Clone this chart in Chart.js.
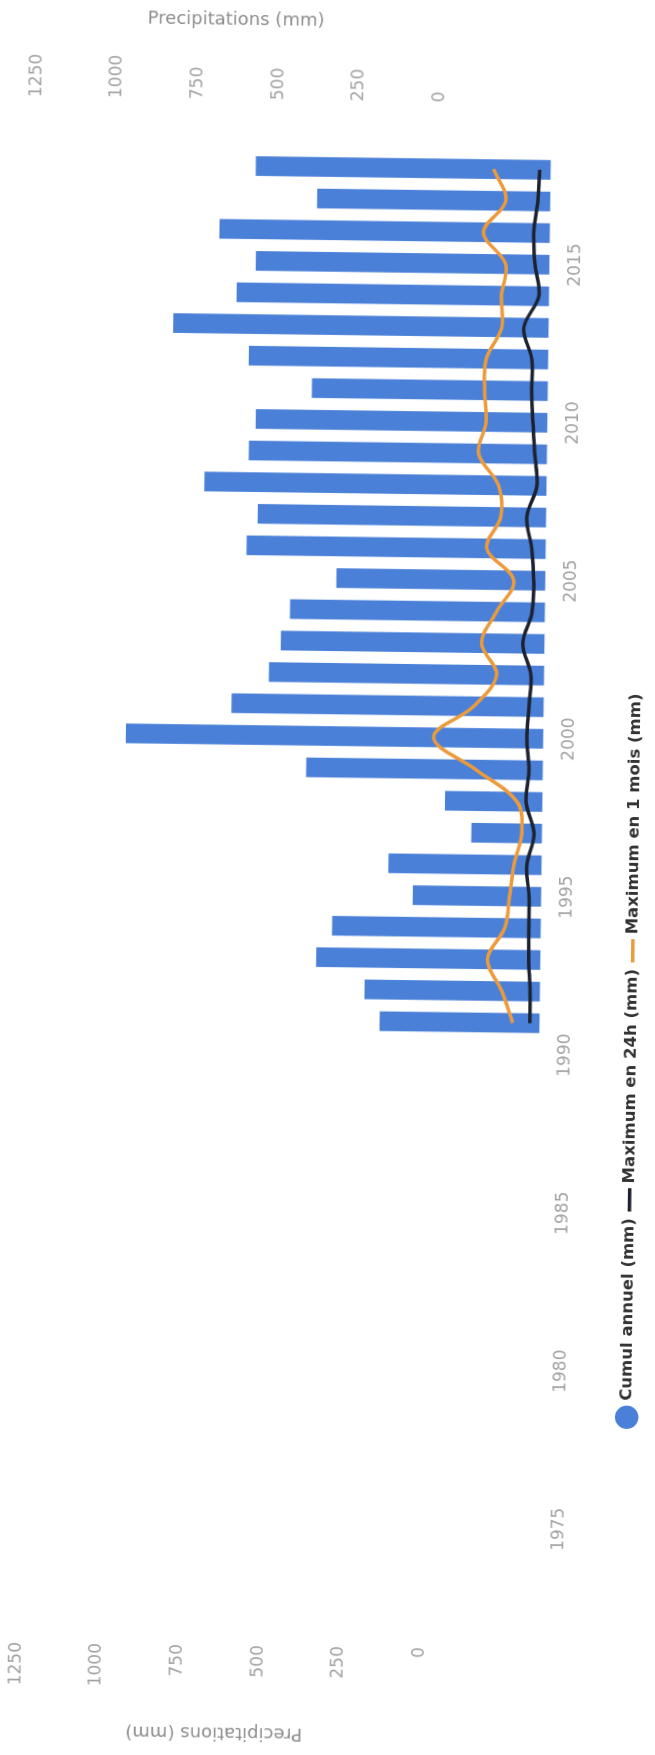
<!DOCTYPE html>
<html lang="fr">
<head>
  <meta charset="UTF-8">
  <title>Précipitations annuelles</title>
  <script src="https://cdn.jsdelivr.net/npm/chart.js"></script>
  <style>
    html, body {
      margin: 0;
      padding: 0;
      background: #ffffff;
      overflow: hidden;
      width: 655px;
      height: 1755px;
    }
    /* the photographed chart lies on its side, slightly tilted */
    #wrap {
      position: absolute;
      left: -550px;
      top: 550px;
      width: 1755px;
      height: 655px;
      transform: rotate(-89.25deg);
      transform-origin: 50% 50%;
    }
  </style>
</head>
<body>
  <div id="wrap">
    <canvas id="rainChart" width="1755" height="655"></canvas>
  </div>

  <script>
    // Data
    const years = [1991, 1992, 1993, 1994, 1995, 1996, 1997, 1998, 1999, 2000,
                   2001, 2002, 2003, 2004, 2005, 2006, 2007, 2008, 2009, 2010,
                   2011, 2012, 2013, 2014, 2015, 2016, 2017, 2018];
    const cumulAnnuel = [494, 542, 693, 645, 397, 473, 218, 301, 732, 1291,
                         965, 851, 815, 788, 646, 925, 892, 1058, 922, 902,
                         729, 926, 1161, 966, 908, 1022, 721, 912];
    const max24h = [30, 31, 36, 37, 38, 46, 25, 51, 43, 51,
                    46, 41, 67, 40, 36, 43, 60, 30, 38, 45,
                    50, 51, 77, 32, 45, 50, 39, 34];
    const max1mois = [83, 118, 164, 112, 98, 86, 63, 79, 208, 340,
                      217, 147, 195, 150, 98, 183, 141, 149, 212, 190,
                      196, 192, 145, 148, 136, 206, 138, 177];

    const yearTicks = [1975, 1980, 1985, 1990, 1995, 2000, 2005, 2010, 2015];
    const valueTicks = [0, 250, 500, 750, 1000, 1250];

    const tickFont = { family: "DejaVu Sans", size: 17 };
    const tickColor = "#a3a3a3";
    const titleColor = "#8c8c8c";

    // legend sits left of centre in the reference
    const legendShift = {
      id: "legendShift",
      afterLayout(chart) {
        chart.legend.left -= 178;
        chart.legend.right -= 178;
      }
    };

    // the labelled axes only cover the upper part of the plot in the picture
    function valueAxis(position, stack, width) {
      return {
        type: "linear",
        position: position,
        stack: stack,
        stackWeight: 407,
        min: 0,
        max: 1269,
        grid: { display: false, drawTicks: false },
        border: { display: false },
        afterBuildTicks: axis => {
          axis.ticks = valueTicks.map(v => ({ value: v }));
        },
        afterFit: axis => { axis.width = width; },
        ticks: {
          font: tickFont,
          color: tickColor,
          padding: 6,
          callback: v => String(v)
        },
        title: {
          display: true,
          text: "Precipitations (mm)",
          color: titleColor,
          font: { family: "DejaVu Sans", size: 18 },
          padding: { top: 11, bottom: 0 }
        }
      };
    }

    function padAxis(position, stack) {
      return {
        type: "linear",
        position: position,
        stack: stack,
        stackWeight: 111,
        display: false
      };
    }

    const ctx = document.getElementById("rainChart").getContext("2d");
    new Chart(ctx, {
      type: "bar",
      data: {
        datasets: [{
          type: "bar",
          label: "Cumul annuel (mm)",
          data: years.map((yr, i) => ({ x: yr, y: cumulAnnuel[i] })),
          backgroundColor: "#4a80d8",
          barThickness: 19,
          pointStyle: "circle",
          order: 2
        }, {
          type: "line",
          label: "Maximum en 24h (mm)",
          data: years.map((yr, i) => ({ x: yr, y: max24h[i] })),
          borderColor: "#1c2230",
          backgroundColor: "#1c2230",
          borderWidth: 3.5,
          pointRadius: 0,
          tension: 0.35,
          pointStyle: "line",
          order: 0
        }, {
          type: "line",
          label: "Maximum en 1 mois (mm)",
          data: years.map((yr, i) => ({ x: yr, y: max1mois[i] })),
          borderColor: "#eb9a3c",
          backgroundColor: "#eb9a3c",
          borderWidth: 3.5,
          pointRadius: 0,
          tension: 0.35,
          pointStyle: "line",
          order: 1
        }]
      },
      options: {
        responsive: false,
        animation: false,
        layout: { padding: { top: 20, bottom: 3, left: 0, right: 0 } },
        plugins: {
          tooltip: { enabled: false },
          legend: {
            position: "bottom",
            labels: {
              usePointStyle: true,
              font: { family: "DejaVu Sans", size: 16.5, weight: "bold" },
              color: "#333333",
              padding: 10,
              sort: (a, b) => a.datasetIndex - b.datasetIndex
            }
          }
        },
        scales: {
          x: {
            type: "linear",
            min: 1971.4,
            max: 2019.9,
            offset: false,
            grid: { display: false, drawTicks: false },
            border: { display: false },
            afterBuildTicks: axis => {
              axis.ticks = yearTicks.map(v => ({ value: v }));
            },
            afterFit: axis => { axis.height = 74; },
            ticks: {
              font: tickFont,
              color: tickColor,
              padding: 16,
              maxRotation: 0,
              callback: v => String(v)
            }
          },
          y: {
            type: "linear",
            display: false,
            min: 0,
            max: 1614
          },
          // left boxes are laid out in reverse order, so the spacer comes first
          yLeftPad: padAxis("left", "left"),
          yLeft: valueAxis("left", "left", 115),
          yRight: valueAxis("right", "right", 107),
          yRightPad: padAxis("right", "right")
        }
      },
      plugins: [legendShift]
    });
  </script>
</body>
</html>
